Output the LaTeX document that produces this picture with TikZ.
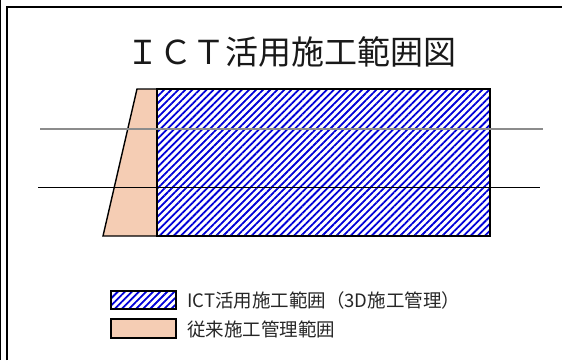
\documentclass[tikz,border=0pt]{standalone}
\usepackage{fontspec}
\newfontfamily\jpfont{Noto Sans CJK JP}
\usetikzlibrary{patterns,patterns.meta,calc}
\definecolor{ICTBlue}{HTML}{0000D8}
\definecolor{OldPeach}{HTML}{F5CDB4}
\tikzset{
    ictarea/.style = {draw, line width=1.4pt,
        pattern={Lines[angle=45,distance=5pt,line width=1.8pt]},
        pattern color=ICTBlue},
    oldarea/.style = {draw, line width=1.4pt, fill=OldPeach},
    level/.style = {line width=0.8pt},
    legtext/.style = {anchor=west, inner sep=0pt, text=black!85, font=\jpfont\fontsize{18.5}{19}\selectfont}
}
\begin{document}
\begin{tikzpicture}[x=1pt,y=-1pt]
        \useasboundingbox (0,0) rectangle (562,360);
            % frame
            \draw[line width=1pt] (0.5,0) -- (0.5,360);
            \draw[line width=1.6pt] (7,360) -- (7,7) -- (562,7);
        \node (title) [anchor=center, inner sep=0pt, text=black!90, font=\jpfont\fontsize{33}{33}\selectfont] at (291,52) {ＩＣＴ活用施工範囲図};
            % cross section
                \draw[oldarea] (137,89) -- (157,89) -- (157,236) -- (103,236) -- cycle;
                \draw[ictarea] (157,89) rectangle (490,236);
                \draw[level,color=black!45,line width=1.2pt] (40,129) -- (543,129);
                \draw[level] (38,187) -- (540,187);
            % legend
                \draw[ictarea,line width=1.2pt] (111,291) rectangle (176,309);
                \draw[oldarea,line width=1.2pt] (111,319) rectangle (176,338);
                \node (legict) [legtext] at (187,300) {ICT活用施工範囲（3D施工管理）};
                \node (legold) [legtext] at (187,329) {従来施工管理範囲};
            \end{tikzpicture}
\end{document}
